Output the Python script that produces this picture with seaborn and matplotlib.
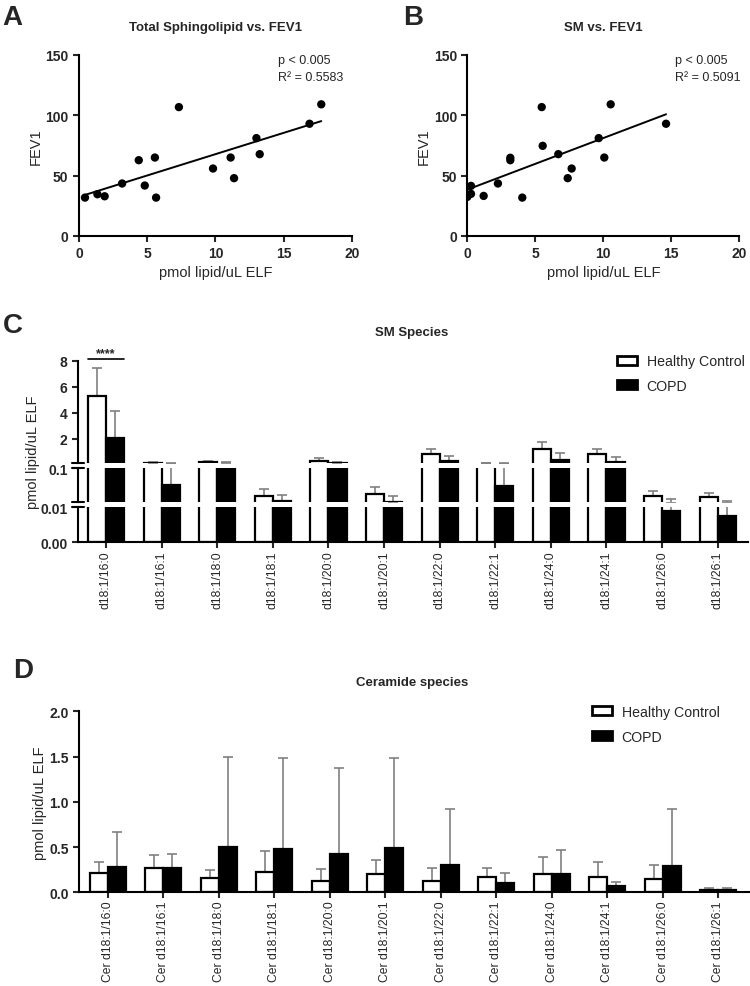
import pandas as pd
import seaborn as sns
import matplotlib.pyplot as plt
from matplotlib.patches import Patch

# Style: plain ticks, Arial-like font
sns.set_theme(style="ticks")
plt.rcParams['font.family'] = ['Liberation Sans', 'DejaVu Sans']
plt.rcParams['axes.linewidth'] = 1.5
plt.rcParams['xtick.major.width'] = 1.5
plt.rcParams['ytick.major.width'] = 1.5
plt.rcParams['xtick.major.size'] = 4
plt.rcParams['ytick.major.size'] = 4
plt.rcParams['axes.edgecolor'] = 'black'

# ---- data ----
# panel A: total sphingolipid vs FEV1
tot_lipid = [0.44, 1.35, 1.88, 3.16, 4.38, 4.82, 5.56, 5.65, 7.32, 9.82, 11.11, 11.36, 13.0, 13.24, 16.89, 17.75]
tot_fev1 = [31.8, 34.6, 32.9, 43.5, 62.8, 41.8, 65.0, 31.8, 106.8, 55.9, 65.0, 47.9, 81.1, 67.8, 93.0, 109.1]

# panel B: SM vs FEV1
sm_lipid = [0.0, 0.27, 0.27, 1.2, 2.25, 3.16, 3.16, 4.04, 5.47, 5.54, 6.69, 7.38, 7.67, 9.66, 10.07, 10.54, 14.61]
sm_fev1 = [32.4, 34.9, 41.5, 33.2, 43.5, 64.8, 62.8, 31.8, 106.8, 74.7, 67.8, 47.9, 55.9, 81.1, 65.0, 109.1, 93.0]

groups = ['Healthy Control', 'COPD']
group_colors = ['white', 'black']

# panel C: SM species (mean and top of error bar)
sm_species = ['d18:1/16:0', 'd18:1/16:1', 'd18:1/18:0', 'd18:1/18:1', 'd18:1/20:0', 'd18:1/20:1',
              'd18:1/22:0', 'd18:1/22:1', 'd18:1/24:0', 'd18:1/24:1', 'd18:1/26:0', 'd18:1/26:1']
sm_hc = [5.31, 0.15, 0.18, 0.026, 0.30, 0.032, 0.81, 0.105, 1.17, 0.81, 0.0276, 0.023]
sm_hc_top = [7.45, 0.23, 0.30, 0.045, 0.48, 0.051, 1.17, 0.15, 1.73, 1.22, 0.041, 0.034]
sm_copd = [2.01, 0.056, 0.105, 0.0126, 0.12, 0.0118, 0.25, 0.054, 0.36, 0.23, 0.009, 0.0076]
sm_copd_top = [4.14, 0.13, 0.18, 0.029, 0.23, 0.0276, 0.66, 0.15, 0.92, 0.58, 0.018, 0.0144]

# panel D: ceramide species
cer_species = ['Cer d18:1/16:0', 'Cer d18:1/16:1', 'Cer d18:1/18:0', 'Cer d18:1/18:1', 'Cer d18:1/20:0',
               'Cer d18:1/20:1', 'Cer d18:1/22:0', 'Cer d18:1/22:1', 'Cer d18:1/24:0', 'Cer d18:1/24:1',
               'Cer d18:1/26:0', 'Cer d18:1/26:1']
cer_hc = [0.214, 0.273, 0.162, 0.225, 0.122, 0.206, 0.122, 0.173, 0.206, 0.173, 0.151, 0.030]
cer_hc_top = [0.335, 0.413, 0.243, 0.453, 0.254, 0.354, 0.265, 0.269, 0.387, 0.335, 0.298, 0.048]
cer_copd = [0.276, 0.265, 0.50, 0.479, 0.427, 0.49, 0.302, 0.107, 0.199, 0.07, 0.287, 0.022]
cer_copd_top = [0.663, 0.424, 1.495, 1.484, 1.37, 1.488, 0.917, 0.21, 0.471, 0.114, 0.92, 0.048]


def long_table(species, hc, copd):
    return pd.DataFrame({'species': species * 2,
                         'group': [groups[0]] * len(species) + [groups[1]] * len(species),
                         'value': hc + copd})


def bars(ax, df, tops, lo=0.0):
    sns.barplot(data=df, x='species', y='value', hue='group', hue_order=groups,
                palette=group_colors, edgecolor='black', linewidth=1.6, width=0.65,
                errorbar=None, legend=False, ax=ax, zorder=2)
    # one-sided grey error bars; skip marks that don't reach this axis segment
    for cont, top in zip(ax.containers, tops):
        for bar, t in zip(cont, top):
            h = bar.get_height()
            if lo > 0 and h < lo * 1.08:
                bar.set_visible(False)
            if lo > 0 and t < lo * 1.08:
                continue
            xc = bar.get_x() + bar.get_width() / 2
            ax.errorbar(xc, h, yerr=[[0], [t - h]], color='#808080', lw=1.2,
                        capsize=3.5, capthick=1.2, zorder=1)
    ax.set_xlabel('')
    ax.set_ylabel('')


def scatter_panel(ax, x, y, title):
    sns.regplot(x=x, y=y, ax=ax, ci=None, color='black',
                scatter_kws={'s': 36, 'alpha': 1, 'edgecolor': 'none'},
                line_kws={'lw': 1.4})
    ax.set_xlim(0, 20)
    ax.set_ylim(0, 150)
    ax.set_xticks([0, 5, 10, 15, 20], ['0', '5', '10', '15', '20'], fontweight='bold', fontsize=10)
    ax.set_yticks([0, 50, 100, 150], ['0', '50', '100', '150'], fontweight='bold', fontsize=10)
    ax.set_xlabel('pmol lipid/uL ELF', fontsize=10.5, labelpad=3)
    ax.set_ylabel('FEV1', fontsize=10.5, labelpad=2)
    ax.text(0.5, 1.155, title, transform=ax.transAxes, ha='center', va='center',
            fontsize=9.5, fontweight='bold')
    sns.despine(ax=ax)


fig = plt.figure(figsize=(7.5, 9.87), dpi=100)

# ---- A ----
axA = fig.add_axes([0.1053, 0.7599, 0.3640, 0.1834])
scatter_panel(axA, tot_lipid, tot_fev1, 'Total Sphingolipid vs. FEV1')
axA.text(0.729, 0.972, 'p < 0.005', transform=axA.transAxes, fontsize=9, va='center')
axA.text(0.729, 0.878, 'R\u00b2 = 0.5583', transform=axA.transAxes, fontsize=9, va='center')

# ---- B ----
axB = fig.add_axes([0.6231, 0.7599, 0.3627, 0.1834])
scatter_panel(axB, sm_lipid, sm_fev1, 'SM vs. FEV1')
axB.text(0.764, 0.972, 'p < 0.005', transform=axB.transAxes, fontsize=9, va='center')
axB.text(0.764, 0.878, 'R\u00b2 = 0.5091', transform=axB.transAxes, fontsize=9, va='center')

# ---- C: three-segment broken axis ----
sm_df = long_table(sm_species, sm_hc, sm_copd)
c_left, c_width = 0.104, 0.893
axC_top = fig.add_axes([c_left, 0.5296, c_width, 0.1040])
axC_mid = fig.add_axes([c_left, 0.4901, c_width, 0.0344])
axC_bot = fig.add_axes([c_left, 0.4498, c_width, 0.0352])

for ax, (lo, hi) in ((axC_top, (0.1, 8)), (axC_mid, (0.01, 0.1)), (axC_bot, (0, 0.01))):
    bars(ax, sm_df, [sm_hc_top, sm_copd_top], lo=lo)
    ax.set_ylim(lo, hi)
    ax.set_xlim(-0.503, 11.54)
    sns.despine(ax=ax)

axC_top.set_yticks([2, 4, 6, 8], ['2', '4', '6', '8'], fontweight='bold', fontsize=10)
axC_mid.set_yticks([0.1], ['0.1'], fontweight='bold', fontsize=10)
axC_bot.set_yticks([0, 0.01], ['0.00', '0.01'], fontweight='bold', fontsize=10)
for ax in (axC_top, axC_mid):
    ax.spines['bottom'].set_visible(False)
    ax.tick_params(axis='x', bottom=False, labelbottom=False)
axC_bot.set_xticks(range(len(sm_species)), sm_species, rotation=90, fontsize=8.8)
axC_bot.tick_params(axis='x', pad=2)

# break marks on the y axis
d = 0.009
for ax, ys in ((axC_top, [0]), (axC_mid, [0, 1]), (axC_bot, [1])):
    for yy in ys:
        ax.plot([-d, d], [yy, yy], transform=ax.transAxes, color='black', lw=1.5, clip_on=False)

# significance bar over 16:0
x0 = axC_top.containers[0][0].get_x()
x1 = axC_top.containers[1][0].get_x() + axC_top.containers[1][0].get_width()
axC_top.plot([x0, x1], [8.1, 8.1], color='black', lw=1.2, clip_on=False)
axC_top.text((x0 + x1) / 2, 8.6, '****', ha='center', va='center', fontsize=9, fontweight='bold')

fig.text(0.5487, 1 - 333 / 987, 'SM Species', ha='center', va='center', fontsize=9.5, fontweight='bold')
fig.text(33 / 750, 1 - 452 / 987, 'pmol lipid/uL ELF', rotation=90, ha='center', va='center', fontsize=10.5)

handles = [Patch(facecolor=c, edgecolor='black', linewidth=2) for c in group_colors]
fig.legend(handles, groups, loc='upper left', bbox_to_anchor=(0.813, 0.6475), frameon=False,
           fontsize=10.2, handlelength=1.4, handleheight=0.6, handletextpad=0.7,
           labelspacing=0.75, borderpad=0)

# ---- D ----
cer_df = long_table(cer_species, cer_hc, cer_copd)
axD = fig.add_axes([0.1057, 0.0949, 0.8923, 0.1834])
bars(axD, cer_df, [cer_hc_top, cer_copd_top])
axD.set_xlim(-0.518, 11.55)
axD.set_ylim(0, 2.0)
axD.set_yticks([0, 0.5, 1.0, 1.5, 2.0], ['0.0', '0.5', '1.0', '1.5', '2.0'], fontweight='bold', fontsize=10)
axD.set_xticks(range(len(cer_species)), cer_species, rotation=90, fontsize=8.7)
axD.tick_params(axis='x', pad=2)
sns.despine(ax=axD)
fig.text(40 / 750, 1 - 803 / 987, 'pmol lipid/uL ELF', rotation=90, ha='center', va='center', fontsize=10.5)
fig.text(0.55, 1 - 683 / 987, 'Ceramide species', ha='center', va='center', fontsize=9.5, fontweight='bold')
fig.legend(handles, groups, loc='upper left', bbox_to_anchor=(0.7797, 0.292), frameon=False,
           fontsize=10.2, handlelength=1.4, handleheight=0.6, handletextpad=0.7,
           labelspacing=0.75, borderpad=0)

# panel letters
for letter, x, y in (('A', 0.003, 0.995), ('B', 0.537, 0.995), ('C', 0.004, 1 - 313 / 987), ('D', 0.017, 1 - 658 / 987)):
    fig.text(x, y, letter, fontsize=20, fontweight='bold', va='top')

plt.savefig('out.png', dpi=100)
